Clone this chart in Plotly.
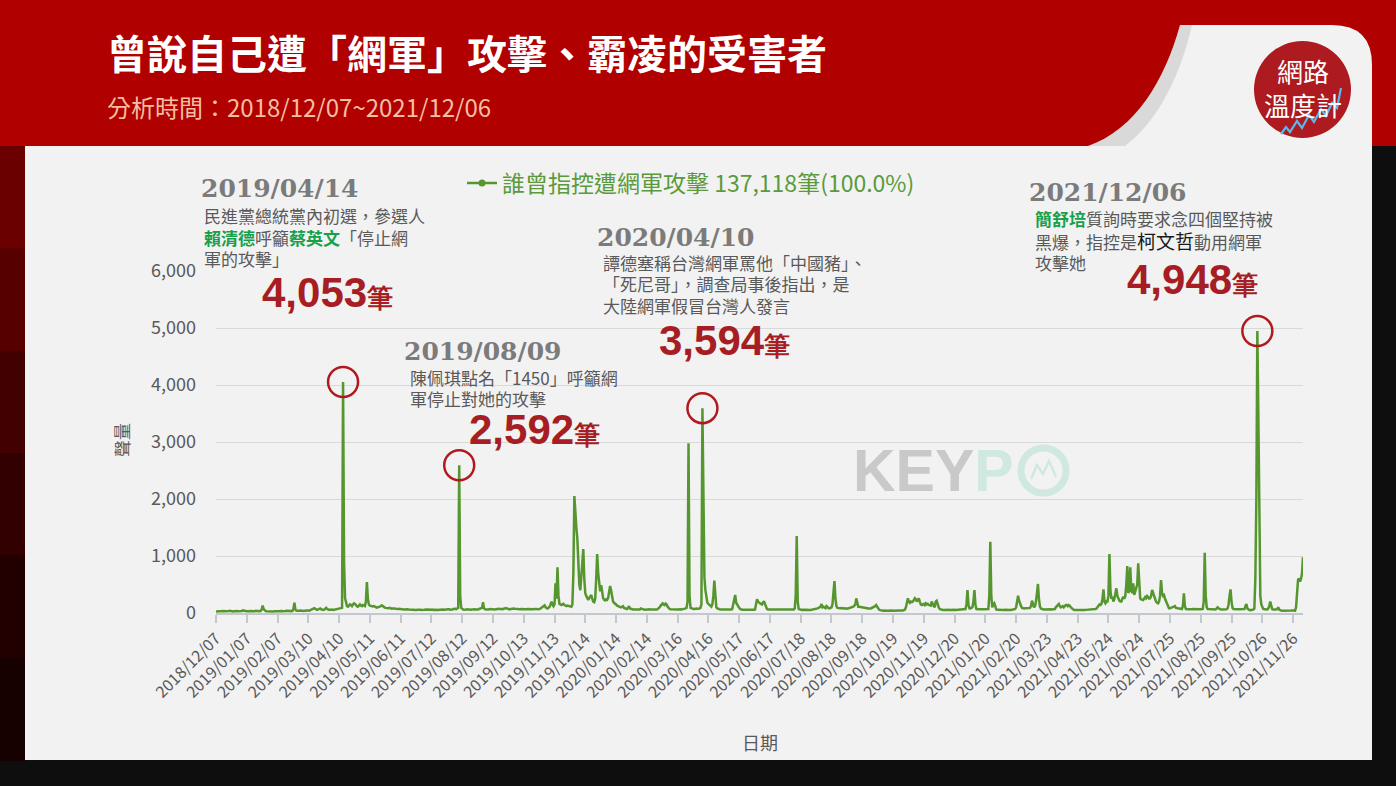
import pandas as pd
import plotly.graph_objects as go

# ---------------- data (daily counts, 2018/12/07 ~ 2021/12/06) ----------------
start_date = "2018-12-07"
block_00 = [28, 30, 25, 32, 35, 30, 27, 33, 36, 30, 28, 26, 31, 34, 38, 32, 29, 27, 30, 35, 40, 33, 30, 28, 26, 30, 34, 45, 38, 32, 30]
block_01 = [31, 29, 33, 36, 40, 35, 30, 28, 32, 38, 42, 36, 33, 30, 35, 60, 130, 70, 40, 35, 32, 30, 34, 38, 36, 33, 30, 28, 31, 35, 33]
block_02 = [32, 30, 34, 38, 35, 31, 29, 33, 36, 40, 37, 34, 31, 30, 33, 38, 70, 180, 60, 40, 36, 34, 38, 42, 45, 40, 36, 34, 38, 44, 48]
block_03 = [45, 42, 50, 55, 60, 75, 85, 70, 60, 55, 62, 70, 80, 65, 58, 55, 60, 72, 90, 70, 60, 55, 58, 62, 60, 55, 58, 65, 70, 68, 72]
block_04 = [75, 80, 85, 90, 4053, 900, 260, 150, 120, 110, 130, 150, 140, 120, 150, 170, 160, 130, 120, 110, 130, 150, 130, 120, 140, 130, 120, 200, 544, 250, 150]
block_05 = [130, 120, 110, 115, 120, 110, 100, 95, 100, 105, 110, 120, 135, 120, 100, 95, 90, 85, 80, 85, 90, 80, 75, 78, 82, 80, 75, 70, 72, 75, 70]
block_06 = [68, 70, 65, 60, 62, 66, 70, 64, 60, 58, 55, 60, 64, 62, 58, 55, 52, 55, 58, 60, 56, 52, 50, 54, 58, 62, 60, 56, 54, 52, 55]
block_07 = [50, 48, 52, 55, 58, 54, 50, 52, 56, 60, 65, 70, 62, 58, 55, 60, 66, 70, 64, 58, 55, 60, 70, 80, 75, 68, 80, 90, 2592, 300, 90]
block_08 = [70, 62, 58, 55, 60, 64, 60, 56, 54, 58, 62, 66, 70, 64, 60, 58, 62, 70, 75, 80, 90, 190, 80, 65, 60, 58, 62, 66, 70, 68, 64]
block_09 = [60, 58, 62, 66, 72, 80, 75, 70, 66, 62, 68, 74, 80, 85, 78, 72, 68, 64, 70, 76, 82, 78, 74, 70, 66, 62, 60, 64, 68, 66, 62]
block_10 = [60, 58, 62, 66, 70, 68, 64, 60, 58, 62, 66, 70, 74, 70, 66, 64, 70, 80, 90, 100, 110, 135, 100, 85, 80, 90, 110, 150, 200, 150, 120]
block_11 = [150, 520, 250, 800, 300, 160, 150, 140, 150, 160, 140, 130, 120, 130, 125, 120, 115, 110, 150, 700, 2053, 1700, 1500, 1300, 800, 500, 400, 600, 900, 1123, 600]
block_12 = [345, 300, 250, 230, 260, 300, 316, 250, 200, 190, 250, 600, 1035, 700, 462, 380, 490, 350, 260, 230, 220, 240, 230, 260, 350, 474, 400, 260, 200, 180, 170]
block_13 = [150, 130, 120, 110, 110, 100, 110, 120, 90, 80, 75, 70, 90, 120, 80, 70, 65, 62, 60, 64, 68, 62, 60, 58, 62, 80, 70, 62, 60, 58, 62]
block_14 = [60, 58, 62, 65, 60, 58, 56, 60, 64, 62, 60, 70, 80, 100, 130, 160, 170, 150, 140, 165, 150, 110, 80, 70, 65, 62, 60, 64, 66, 62, 60]
block_15 = [62, 66, 70, 64, 60, 62, 68, 74, 80, 90, 200, 2977, 300, 90, 80, 75, 70, 72, 78, 80, 76, 72, 80, 90, 150, 3594, 1500, 626, 400, 230, 180]
block_16 = [160, 140, 120, 110, 150, 300, 567, 200, 100, 80, 70, 65, 62, 60, 64, 66, 62, 60, 58, 62, 66, 64, 60, 62, 70, 150, 250, 316, 180, 140, 120]
block_17 = [90, 70, 60, 58, 56, 55, 58, 60, 56, 54, 55, 58, 56, 54, 52, 56, 60, 150, 240, 200, 180, 170, 160, 150, 180, 205, 160, 100, 70, 60, 60]
block_18 = [62, 65, 64, 60, 62, 66, 70, 68, 64, 62, 60, 64, 66, 68, 70, 66, 64, 62, 60, 64, 66, 62, 60, 58, 62, 80, 300, 1351, 200, 70, 60]
block_19 = [56, 55, 58, 54, 52, 55, 58, 60, 56, 54, 52, 55, 58, 60, 62, 66, 70, 80, 90, 100, 110, 158, 100, 110, 90, 85, 120, 95, 85, 80, 90]
block_20 = [100, 150, 300, 561, 250, 120, 90, 85, 80, 84, 88, 80, 78, 82, 86, 80, 76, 80, 84, 90, 95, 100, 110, 130, 150, 257, 150, 110, 110, 105, 110]
block_21 = [100, 95, 90, 85, 80, 82, 78, 75, 80, 84, 90, 100, 110, 120, 140, 110, 90, 60, 50, 45, 42, 40, 44, 46, 42, 40, 38, 42, 45, 40, 42]
block_22 = [40, 42, 44, 40, 38, 42, 46, 44, 42, 40, 45, 50, 60, 100, 200, 257, 200, 180, 200, 190, 200, 220, 257, 240, 200, 230, 257, 200, 150, 140, 150]
block_23 = [160, 140, 170, 150, 160, 140, 140, 130, 200, 150, 120, 100, 200, 216, 140, 100, 70, 60, 55, 52, 54, 56, 52, 50, 54, 56, 52, 50, 54, 56, 52]
block_24 = [55, 54, 56, 52, 55, 58, 54, 56, 60, 58, 62, 70, 150, 403, 150, 82, 80, 90, 100, 200, 403, 150, 70, 64, 62, 66, 64, 62, 60, 64, 66]
block_25 = [64, 62, 66, 70, 300, 1251, 300, 100, 150, 170, 120, 60, 55, 53, 52, 55, 54, 53, 52, 54, 56, 53, 52, 50, 54, 53, 52, 55, 58, 60, 70]
block_26 = [100, 200, 304, 216, 150, 120, 90, 82, 80, 84, 82, 80, 84, 88, 90, 120, 216, 150, 100, 120, 200, 350, 509, 250, 111, 80, 66, 64, 62, 64, 66]
block_27 = [64, 62, 64, 66, 64, 62, 64, 66, 70, 100, 120, 140, 158, 120, 100, 110, 120, 100, 130, 140, 140, 120, 140, 130, 100, 80, 60, 55, 53, 52, 54]
block_28 = [53, 52, 54, 56, 53, 52, 54, 53, 55, 56, 54, 52, 53, 55, 57, 56, 58, 60, 70, 80, 100, 140, 150, 140, 160, 250, 415, 200, 170, 200, 200]
block_29 = [300, 1035, 400, 250, 286, 200, 250, 350, 433, 300, 250, 220, 200, 200, 250, 286, 250, 300, 500, 825, 350, 400, 801, 403, 350, 520, 316, 380, 462, 500, 871]
block_30 = [500, 257, 240, 228, 228, 250, 280, 260, 298, 280, 255, 260, 300, 403, 350, 300, 250, 200, 180, 170, 200, 300, 579, 350, 300, 316, 250, 200, 150, 100, 82]
block_31 = [82, 90, 85, 95, 100, 120, 90, 85, 82, 80, 70, 72, 70, 120, 345, 120, 70, 66, 64, 68, 66, 64, 66, 70, 68, 64, 62, 64, 66, 64, 62]
block_32 = [64, 66, 70, 200, 1058, 300, 100, 70, 66, 64, 62, 64, 66, 68, 64, 62, 80, 100, 80, 66, 64, 62, 64, 66, 70, 68, 64, 80, 150, 300, 415]
block_33 = [200, 90, 70, 66, 64, 62, 64, 66, 68, 64, 62, 64, 66, 70, 120, 158, 80, 55, 52, 50, 54, 52, 60, 80, 600, 2000, 4948, 3500, 1000, 300, 150]
block_34 = [100, 70, 64, 66, 64, 62, 80, 120, 200, 100, 66, 62, 60, 64, 60, 70, 100, 60, 45, 42, 41, 40, 42, 44, 41, 40, 42, 41, 40, 42, 44]
block_35 = [41, 40, 42, 100, 300, 580, 608, 550, 600, 700, 980]

blocks = [block_00, block_01, block_02, block_03, block_04, block_05, block_06, block_07, block_08,
          block_09, block_10, block_11, block_12, block_13, block_14, block_15, block_16, block_17,
          block_18, block_19, block_20, block_21, block_22, block_23, block_24, block_25, block_26,
          block_27, block_28, block_29, block_30, block_31, block_32, block_33, block_34, block_35]
values = [v for b in blocks for v in b]
dates = pd.date_range(start_date, periods=len(values), freq="D")

series_name = "誰曾指控遭網軍攻擊 137,118筆(100.0%)"
highlight_dates = ["2019-04-14", "2019-08-09", "2020-04-10", "2021-10-21"]
y_ticks = [0, 1000, 2000, 3000, 4000, 5000, 6000]

title_text = "曾說自己遭「網軍」攻擊、霸凌的受害者"
subtitle_text = "分析時間：2018/12/07~2021/12/06"

# ---------------- layout helpers ----------------
W, H = 1396, 786
PL, PR, PT, PB = 216, 1303, 271, 613
GREEN = "#55962f"
RED = "#a61e23"
TXT = "#595959"
NAME_G = "#17a04b"
CJK = "Noto Sans CJK TC"


def px(x):
    return (x - PL) / (PR - PL)


def py(y):
    return (PB - y) / (PB - PT)


def note(x, y, text, size, color, family=CJK, xanchor="left", **kw):
    d = dict(xref="paper", yref="paper", x=px(x), y=py(y), text=text, showarrow=False,
             xanchor=xanchor, yanchor="middle", align="left",
             font=dict(size=size, color=color, family=family))
    d.update(kw)
    return d


def path(points, close=True):
    s = "M " + " L ".join(f"{px(a):.5f},{py(b):.5f}" for a, b in points)
    return s + (" Z" if close else "")


fig = go.Figure()
fig.add_trace(go.Scatter(x=dates, y=values, mode="lines", line=dict(color=GREEN, width=2.5),
                         showlegend=False, hoverinfo="skip"))
fig.add_trace(go.Scatter(x=[None], y=[None], mode="lines+markers", name=series_name,
                         line=dict(color=GREEN, width=2.5), marker=dict(size=7, color=GREEN)))

shapes = []
# header red
shapes.append(dict(type="rect", xref="paper", yref="paper", x0=px(0), x1=px(W), y0=py(0), y1=py(146),
                   fillcolor="#b00000", line_width=0, layer="below"))
# left dark strip gradient
strip_cols = ["#6a0000", "#560000", "#430000", "#320000", "#230000", "#160000"]
seg = (760 - 146) / len(strip_cols)
for i, c in enumerate(strip_cols):
    shapes.append(dict(type="rect", xref="paper", yref="paper", x0=px(0), x1=px(26),
                       y0=py(146 + i * seg), y1=py(146 + (i + 1) * seg + 1),
                       fillcolor=c, line_width=0, layer="below"))
# card
card = (f"M {px(25)},{py(146)} L {px(1088)},{py(146)} "
        f"C {px(1135)},{py(130)} {px(1165)},{py(80)} {px(1180)},{py(25)} "
        f"L {px(1332)},{py(25)} Q {px(1372)},{py(25)} {px(1372)},{py(65)} "
        f"L {px(1372)},{py(760)} L {px(25)},{py(760)} Z")
shapes.append(dict(type="path", xref="paper", yref="paper", path=card, fillcolor="#f2f2f2",
                   line_width=0, layer="below"))
# page-curl shading
curl = (f"M {px(1180)},{py(25)} C {px(1165)},{py(80)} {px(1135)},{py(130)} {px(1088)},{py(146)} "
        f"L {px(1125)},{py(146)} C {px(1160)},{py(120)} {px(1182)},{py(70)} {px(1192)},{py(25)} Z")
shapes.append(dict(type="path", xref="paper", yref="paper", path=curl, fillcolor="rgba(0,0,0,0.10)",
                   line_width=0, layer="below"))
# logo
shapes.append(dict(type="circle", xref="paper", yref="paper", x0=px(1254), x1=px(1351), y0=py(41), y1=py(138),
                   fillcolor="#ad1a1f", line_width=0, layer="below"))
shapes.append(dict(type="path", xref="paper", yref="paper",
                   path=path([(1281, 134), (1286, 127), (1290, 132), (1297, 121), (1302, 128), (1309, 115),
                              (1314, 122), (1321, 109), (1326, 116), (1332, 103), (1337, 108), (1341, 88)], close=False),
                   line=dict(color="#5db8ea", width=2.2), layer="below"))
# KEYPO ring + mountain
shapes.append(dict(type="circle", xref="paper", yref="paper", x0=px(1021), x1=px(1066), y0=py(448), y1=py(493),
                   line=dict(color="#cfe9df", width=7), layer="below"))
shapes.append(dict(type="path", xref="paper", yref="paper",
                   path=path([(1031, 479), (1037, 465), (1043, 474), (1049, 461), (1056, 477)], close=False),
                   line=dict(color="#cfe9df", width=2.5), layer="below"))
# highlight circles on peaks
lookup = dict(zip(dates.strftime("%Y-%m-%d"), values))
for d in highlight_dates:
    shapes.append(dict(type="circle", xref="x", yref="y", xsizemode="pixel", ysizemode="pixel",
                       xanchor=d, yanchor=lookup[d], x0=-15, x1=15, y0=-15, y1=15,
                       line=dict(color="#b01a1f", width=2.5), layer="above"))

G = NAME_G
ann = []
ann.append(note(105, 52, f"<b>{title_text}</b>", 40, "white"))
ann.append(note(105, 106, subtitle_text, 24, "#f6bea2"))
ann.append(note(1303, 88, "網路<br>溫度計", 26, "white", xanchor="center", align="center"))
ann.append(note(851, 471, "<b><span style='color:#c9c9c9'>KEY</span><span style='color:#cfe9df'>P</span></b>",
                59, "#c9c9c9", family="Liberation Sans"))

DATEF = "DejaVu Serif"


def lines(x, y0, texts, step=22):
    return [note(x, y0 + i * step, t, 17, TXT, borderpad=0) for i, t in enumerate(texts)]


# event 1
ann.append(note(200, 188, "<b>2019/04/14</b>", 25, "#7b7b7b", family=DATEF, borderpad=0))
ann += lines(203, 215, ["民進黨總統黨內初選，參選人",
                        f"<span style='color:{G}'><b>賴清德</b></span>呼籲<span style='color:{G}'><b>蔡英文</b></span>「停止網",
                        "軍的攻擊」"])
ann.append(note(261, 292, "<b>4,053<span style='font-size:26px'>筆</span></b>", 42, RED,
                family="Liberation Sans", borderpad=0))
# event 2
ann.append(note(403, 351, "<b>2019/08/09</b>", 25, "#7b7b7b", family=DATEF, borderpad=0))
ann += lines(409, 377, ["陳佩琪點名「1450」呼籲網", "軍停止對她的攻擊"], step=21)
ann.append(note(468, 429, "<b>2,592<span style='font-size:26px'>筆</span></b>", 42, RED,
                family="Liberation Sans", borderpad=0))
# event 3
ann.append(note(596, 237, "<b>2020/04/10</b>", 25, "#7b7b7b", family=DATEF, borderpad=0))
ann += lines(602, 262, ["譚德塞稱台灣網軍罵他「中國豬」、", "「死尼哥」，調查局事後指出，是", "大陸網軍假冒台灣人發言"], step=21.5)
ann.append(note(658, 340, "<b>3,594<span style='font-size:26px'>筆</span></b>", 42, RED,
                family="Liberation Sans", borderpad=0))
# event 4
ann.append(note(1028, 192, "<b>2021/12/06</b>", 25, "#7b7b7b", family=DATEF, borderpad=0))
ann += lines(1034, 218, [f"<span style='color:{G}'><b>簡舒培</b></span>質詢時要求念四個堅持被",
                         f"黑爆，指控是<span style='color:#1a1a1a;font-size:19px'>柯文哲</span>動用網軍",
                         "攻擊她"])
ann.append(note(1126, 279, "<b>4,948<span style='font-size:26px'>筆</span></b>", 42, RED,
                family="Liberation Sans", borderpad=0))
# axis titles
ann.append(note(121, 440, "聲量", 17, TXT, xanchor="center", textangle=-90))
ann.append(note(760, 742, "日期", 18, TXT, xanchor="center"))

fig.update_layout(
    width=W, height=H, autosize=False,
    margin=dict(l=PL, r=W - PR, t=PT, b=H - PB, pad=0),
    paper_bgcolor="#0e0e0e", plot_bgcolor="rgba(0,0,0,0)",
    font=dict(family=CJK, color=TXT),
    shapes=shapes, annotations=ann,
    showlegend=True,
    legend=dict(x=px(462), y=py(183), xanchor="left", yanchor="middle", orientation="h",
                font=dict(size=23, color="#5b9a3c", family=CJK), bgcolor="rgba(0,0,0,0)",
                itemwidth=30),
    xaxis=dict(type="date", range=[dates[0], dates[-1]], tick0=start_date, dtick=31 * 86400000,
               tickformat="%Y/%m/%d", tickangle=-45, ticks="outside", ticklen=8, tickwidth=1.5,
               tickcolor="#c3c7ce", showline=True, linecolor="#c3c7ce", linewidth=1.5, showgrid=False,
               zeroline=False, tickfont=dict(size=16, color=TXT, family=CJK), fixedrange=True),
    yaxis=dict(range=[0, 6000], tickvals=y_ticks, tickformat=",", showgrid=True, gridcolor="#d9d9d9",
               gridwidth=1.3, showline=False, zeroline=False, ticklabelstandoff=19,
               tickfont=dict(size=18, color=TXT, family=CJK), fixedrange=True),
)

fig.write_html("out.html", config={"displayModeBar": False},
               post_script="document.body.style.margin='0px';document.body.style.padding='0px';")
